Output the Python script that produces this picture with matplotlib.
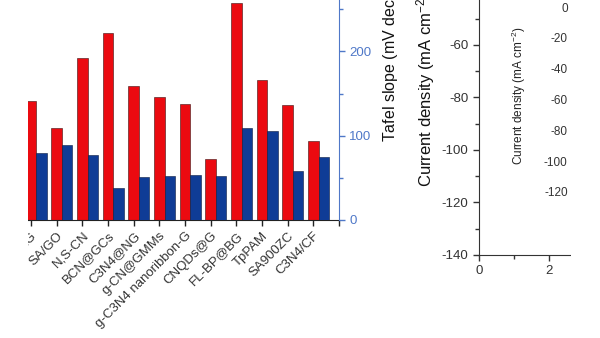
import numpy as np
import matplotlib.pyplot as plt
from matplotlib.patches import Rectangle
from matplotlib.ticker import MultipleLocator

plt.rcParams['font.family'] = ['Liberation Sans', 'DejaVu Sans']
plt.rcParams['axes.unicode_minus'] = False
plt.rcParams['mathtext.fontset'] = 'custom'
plt.rcParams['mathtext.rm'] = 'Liberation Sans'
plt.rcParams['mathtext.default'] = 'regular'

# catalysts (first one only partly visible in the crop)
catalysts = ['NG', 'SA/GO', 'N,S-CN', 'BCN@GCs', 'C3N4@NG', 'g-CN@GMMs',
             'g-C3N4 nanoribbon-G', 'CNQDs@G', 'FL-BP@BG', 'TpPAM',
             'SA900ZC', 'C3N4/CF']
overpotential = [141, 109, 192, 222, 159, 146, 138, 72, 257, 166, 136, 94]
tafel = [79, 89, 77, 38, 51, 52, 53, 52, 109, 106, 58, 75]

red = '#EB0A10'
blue = '#0F3C96'
axis_blue = '#4F78C8'
grey = '#333333'

W, H = 600, 338
fig = plt.figure(figsize=(6, 3.38), dpi=100)

def px_axes(left, top, right, bottom):
    # pixel box -> figure fraction axes
    return fig.add_axes([left / W, 1 - bottom / H, (right - left) / W, (bottom - top) / H])

# ---- left panel: bar chart ----
ax = px_axes(28, -7.6, 339, 220)
x = np.arange(len(catalysts))
w = 0.41
ax.bar(x, overpotential, width=w, align='center', color=red, edgecolor='#3a1010', linewidth=0.4)
ax.set_xlim(-0.117, 12)
ax.set_ylim(0, 270)
ax.set_xticks(np.arange(13))
ax.set_xticklabels(catalysts + [''], rotation=45, ha='right', rotation_mode='anchor',
                   fontsize=9.5, color=grey)
ax.tick_params(axis='x', direction='out', length=4, width=1, color='#222222', pad=3)
ax.spines['top'].set_visible(False)
ax.spines['left'].set_visible(False)
ax.spines['right'].set_visible(False)
ax.spines['bottom'].set_color('#222222')
ax.set_yticks([])

ax2 = ax.twinx()
ax2.bar(x + w, tafel, width=w, align='center', color=blue, edgecolor='#0a1a40', linewidth=0.4)
ax2.set_ylim(0, 270)
ax2.set_xlim(-0.117, 12)
ax2.yaxis.set_major_locator(MultipleLocator(100))
ax2.yaxis.set_minor_locator(MultipleLocator(50))
ax2.tick_params(axis='y', which='major', direction='out', length=4, width=1,
                color=axis_blue, labelcolor=axis_blue, labelsize=9.5)
ax2.tick_params(axis='y', which='minor', direction='out', length=3, width=1, color=axis_blue)
for s in ['top', 'left', 'bottom']:
    ax2.spines[s].set_visible(False)
ax2.spines['right'].set_color(axis_blue)
fig.text(390 / W, 1 - 142 / H, 'Tafel slope (mV dec$^{-1}$)', rotation=90,
         ha='center', va='bottom', fontsize=11.5, color='#111111')

# ---- right panel: polarisation curve axes ----
ax3 = px_axes(479, -7.5, 689, 255)
ax3.set_xlim(0, 6)
ax3.set_ylim(-140, -40)
ax3.xaxis.set_major_locator(MultipleLocator(2))
ax3.xaxis.set_minor_locator(MultipleLocator(1))
ax3.yaxis.set_major_locator(MultipleLocator(20))
ax3.yaxis.set_minor_locator(MultipleLocator(10))
ax3.tick_params(which='major', direction='out', length=4, width=1, color=grey,
                labelcolor=grey, labelsize=9.5)
ax3.tick_params(which='minor', direction='out', length=3, width=1, color=grey)
for s in ['top', 'right']:
    ax3.spines[s].set_visible(False)
for s in ['left', 'bottom']:
    ax3.spines[s].set_color(grey)
fig.text(426 / W, 1 - 187 / H, 'Current density (mA cm$^{-2}$)', rotation=90,
         ha='center', va='bottom', fontsize=12, color='#111111')

# inset (its axis line lies outside the crop)
ax4 = px_axes(576, -8.4, 700, 222.6)
ax4.set_ylim(-140, 10)
ax4.set_yticks(np.arange(-120, 1, 20))
ax4.set_xticks([])
ax4.tick_params(axis='y', direction='out', length=3, color=grey, labelcolor=grey,
                labelsize=8.5, pad=3)
ax4.patch.set_alpha(0)
for s in ['top', 'right', 'bottom']:
    ax4.spines[s].set_visible(False)
fig.text(519 / W, 1 - 165 / H, 'Current density (mA cm$^{-2}$)', rotation=90,
         ha='center', va='bottom', fontsize=8.5, color='#222222')

# crop edges of the original figure
fig.add_artist(Rectangle((0, 0), 28 / W, 1, transform=fig.transFigure,
                         facecolor='white', edgecolor='none', zorder=10))
fig.add_artist(Rectangle((571 / W, 0), 29 / W, 1, transform=fig.transFigure,
                         facecolor='white', edgecolor='none', zorder=10))

fig.savefig('out.png', dpi=100)
